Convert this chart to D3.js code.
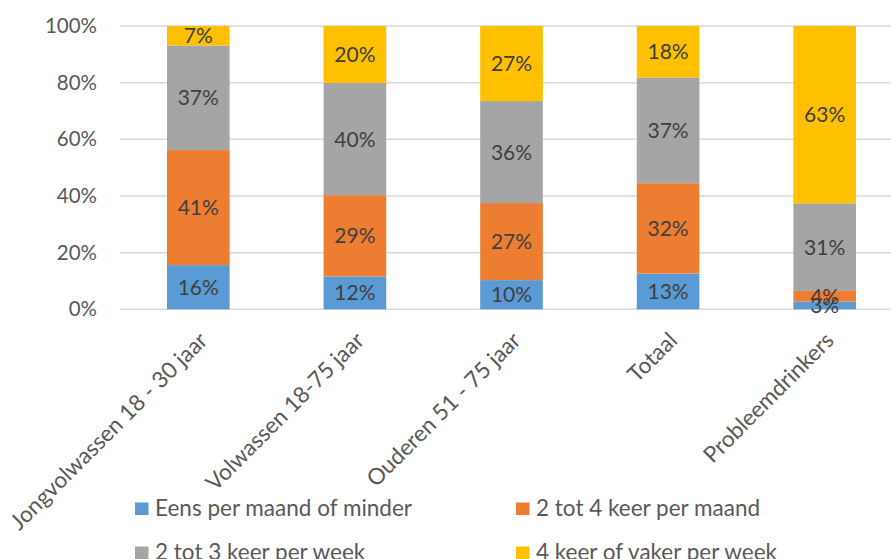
<!DOCTYPE html>
<html><head><meta charset="utf-8">
<script src="https://cdn.jsdelivr.net/npm/d3@7"></script>
<style>body{margin:0;background:#fff;overflow:hidden}svg{display:block}</style>
</head><body><svg id="c" width="891" height="559"></svg>
<script>
const categories = ["Jongvolwassen 18 - 30 jaar","Volwassen 18-75 jaar","Ouderen 51 - 75 jaar","Totaal","Probleemdrinkers"];
const seriesNames = ["Eens per maand of minder","2 tot 4 keer per maand","2 tot 3 keer per week","4 keer of vaker per week"];
const eensPerMaand = [15.6, 11.6, 10.3, 12.6, 2.7];
const tweeTot4Maand = [40.6, 28.7, 27.2, 31.9, 3.8];
const tweeTot3Week = [36.9, 39.6, 36.0, 37.3, 30.9];
const vierOfVaker = [6.9, 20.1, 26.5, 18.2, 62.6];
const yTicks = [0, 20, 40, 60, 80, 100];
const colors = ["#5B9BD5","#ED7D31","#A5A5A5","#FFC000"];

const svg = d3.select("#c");
const font = "Lato, 'Open Sans', sans-serif";
const pLeft = 120, pRight = 903, pTop = 26, pBottom = 309.3;
const x = d3.scaleBand().domain(categories).range([pLeft, pRight]).paddingInner(0.6).paddingOuter(0.3);
const y = d3.scaleLinear().domain([0,100]).range([pBottom, pTop]);

const rows = categories.map((c,i)=>({cat:c, s0:eensPerMaand[i], s1:tweeTot4Maand[i], s2:tweeTot3Week[i], s3:vierOfVaker[i]}));
const stack = d3.stack().keys(["s0","s1","s2","s3"])(rows);

// grid
svg.append("g").selectAll("line").data(yTicks).join("line")
  .attr("x1", pLeft).attr("x2", 891).attr("y1", d=>y(d)).attr("y2", d=>y(d))
  .attr("stroke", "#D9D9D9").attr("stroke-width", 1.5);

// y axis labels
const yAxis = d3.axisLeft(y).tickValues(yTicks).tickFormat(d=>d+"%").tickSize(0).tickPadding(0);
const ya = svg.append("g").attr("transform", `translate(97,0)`).call(yAxis);
ya.select(".domain").remove();
ya.selectAll("text").attr("fill","#595959").style("font-family",font).style("font-size","20.5px");

// bars
const g = svg.append("g");
stack.forEach((layer, k)=>{
  g.append("g").attr("fill", colors[k]).selectAll("rect").data(layer).join("rect")
    .attr("x", d=>x(d.data.cat)).attr("width", x.bandwidth())
    .attr("y", d=>y(d[1])).attr("height", d=>y(d[0])-y(d[1]));
});
// labels
stack.forEach((layer, k)=>{
  g.append("g").selectAll("text").data(layer).join("text")
    .attr("x", d=>x(d.data.cat)+x.bandwidth()/2)
    .attr("y", d=>(y(d[0])+y(d[1]))/2)
    .attr("dy","0.36em").attr("text-anchor","middle")
    .attr("fill","#404040").style("font-family",font).style("font-size","21px")
    .text(d=>Math.round(d[1]-d[0])+"%");
});

// x labels
svg.append("g").selectAll("text").data(categories).join("text")
  .attr("transform", d=>`translate(${x(d)+x.bandwidth()/2+5},${pBottom+27}) rotate(-45)`)
  .attr("text-anchor","end").attr("dy","0.35em")
  .attr("fill","#595959").style("font-family",font).style("font-size","22.5px")
  .text(d=>d);

// legend
const legPos = [[135,515.5],[516,515.5],[135,559.5],[516,559.5]];
const lg = svg.append("g").selectAll("g").data(seriesNames).join("g")
  .attr("transform",(d,i)=>`translate(${legPos[i][0]},${legPos[i][1]})`);
lg.append("rect").attr("x",0).attr("y",-13).attr("width",13.5).attr("height",12.5).attr("fill",(d,i)=>colors[i]);
lg.append("text").attr("x",20).attr("fill","#595959")
  .style("font-family",font).style("font-size","22.5px").text(d=>d);
</script></body></html>
